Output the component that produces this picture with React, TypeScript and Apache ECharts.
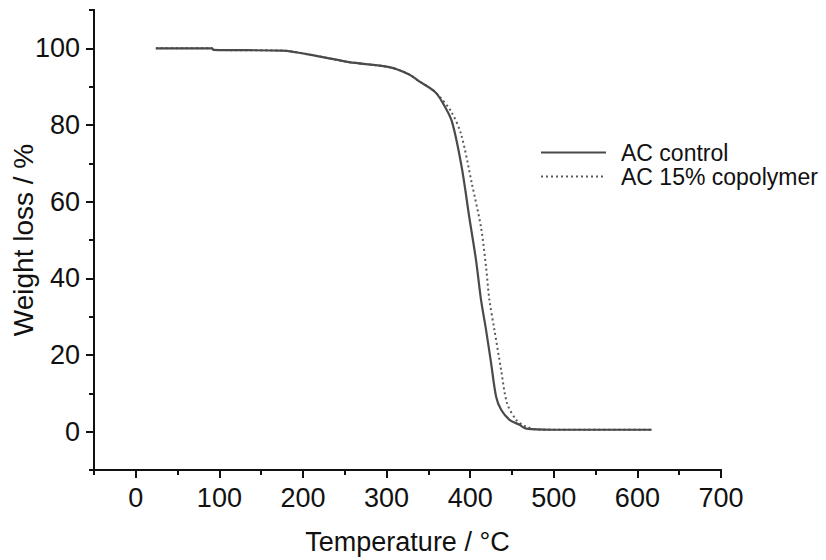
import React, { useEffect, useRef } from "react";
import * as echarts from "echarts";

const ctrlT = [24, 91, 93, 175, 219, 255, 303, 327, 339, 357, 366, 378, 390, 399, 407, 413, 419, 425, 431, 437, 447, 459, 467, 500, 560, 617];
const ctrlW = [100, 100, 99.6, 99.4, 97.9, 96.4, 95.1, 93.2, 91.4, 88.8, 86.2, 81, 68.8, 55.8, 44.7, 34.3, 26.5, 17.9, 9.1, 5.7, 3.1, 1.8, 0.8, 0.5, 0.5, 0.5];

const copoT = [24, 91, 93, 175, 219, 255, 303, 327, 339, 355, 363, 377, 389, 402, 413, 419, 423, 429, 437, 444, 455, 467, 483, 540, 617];
const copoW = [100, 100, 99.6, 99.4, 97.9, 96.4, 95.1, 93.2, 91.4, 89.2, 87.5, 83.6, 77.7, 64.7, 53.2, 42.9, 34.3, 26.5, 16.1, 7.5, 3.1, 1.3, 0.5, 0.5, 0.5];

const xMajor = [0, 100, 200, 300, 400, 500, 600, 700];
const xMinor = [-50, 50, 150, 250, 350, 450, 550, 650];
const yMajor = [0, 20, 40, 60, 80, 100];
const yMinor = [-10, 10, 30, 50, 70, 90, 110];

const FONT = 'Arial, "Liberation Sans", sans-serif';

export default function App() {
  const ref = useRef<HTMLDivElement>(null);
  useEffect(() => {
    if (!ref.current) return;
    const chart = echarts.init(ref.current, undefined, { renderer: "svg" });
    const axisLine = { show: true, onZero: false, lineStyle: { color: "#111", width: 2 } };
    chart.setOption({
      animation: false,
      backgroundColor: "#fff",
      textStyle: { fontFamily: FONT },
      grid: { left: 94, right: 105, top: 10, bottom: 90, outerBoundsMode: "none", containLabel: false },
      legend: {
        orient: "vertical",
        left: 535,
        top: 136,
        itemWidth: 65,
        itemHeight: 14,
        itemGap: 1,
        itemStyle: { opacity: 0 },
        textStyle: { fontSize: 23, lineHeight: 23, color: "#111", fontFamily: FONT, padding: [0, 0, 0, 10] },
        data: ["AC control", "AC 15% copolymer"],
      },
      xAxis: [
        {
          type: "value",
          min: -50,
          max: 700,
          position: "bottom",
          axisLine,
          splitLine: { show: false },
          axisTick: { show: true, customValues: xMajor, length: 8, lineStyle: { color: "#111", width: 2 } },
          axisLabel: { customValues: xMajor, fontSize: 27, color: "#111", margin: 14, fontFamily: FONT },
          name: "Temperature / °C",
          nameLocation: "middle",
          nameGap: 58,
          nameMoveOverlap: false,
          nameTextStyle: { fontSize: 27, color: "#111", fontFamily: FONT },
        },
        {
          type: "value",
          min: -50,
          max: 700,
          position: "bottom",
          axisLine,
          splitLine: { show: false },
          axisTick: { show: true, customValues: xMinor, length: 5, lineStyle: { color: "#111", width: 2 } },
          axisLabel: { show: false },
        },
      ],
      yAxis: [
        {
          type: "value",
          min: -10,
          max: 110,
          position: "left",
          axisLine,
          splitLine: { show: false },
          axisTick: { show: true, customValues: yMajor, length: 8, lineStyle: { color: "#111", width: 2 } },
          axisLabel: { customValues: yMajor, fontSize: 27, color: "#111", margin: 14, fontFamily: FONT },
          name: "Weight loss / %",
          nameLocation: "middle",
          nameGap: 57,
          nameMoveOverlap: false,
          nameTextStyle: { fontSize: 28, color: "#111", fontFamily: FONT },
        },
        {
          type: "value",
          min: -10,
          max: 110,
          position: "left",
          axisLine,
          splitLine: { show: false },
          axisTick: { show: true, customValues: yMinor, length: 5, lineStyle: { color: "#111", width: 2 } },
          axisLabel: { show: false },
        },
      ],
      series: [
        {
          name: "AC 15% copolymer",
          type: "line",
          xAxisIndex: 0,
          yAxisIndex: 0,
          symbol: "none",
          smooth: 0.3,
          data: copoT.map((t, i) => [t, copoW[i]]),
          lineStyle: { color: "#5a5a5a", width: 2, type: [2, 3] },
          itemStyle: { color: "#5a5a5a" },
          z: 2,
        },
        {
          name: "AC control",
          type: "line",
          xAxisIndex: 0,
          yAxisIndex: 0,
          symbol: "none",
          smooth: 0.3,
          data: ctrlT.map((t, i) => [t, ctrlW[i]]),
          lineStyle: { color: "#4a4a4a", width: 2.2 },
          itemStyle: { color: "#4a4a4a" },
          z: 3,
        },
      ],
    });
    return () => chart.dispose();
  }, []);
  return (
    <div
      ref={ref}
      style={{ position: "fixed", left: 0, top: 0, width: 826, height: 560, background: "#fff" }}
    />
  );
}
